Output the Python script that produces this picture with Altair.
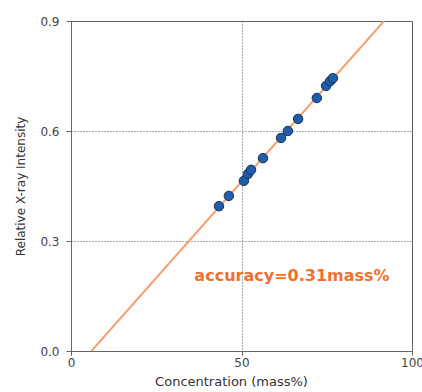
import altair as alt
import pandas as pd

conc = [43.4, 46.3, 50.7, 51.9, 52.8, 56.3, 61.6, 63.6, 66.6, 72.1, 74.8, 76.0, 76.8]
inten = [0.395, 0.423, 0.464, 0.483, 0.494, 0.526, 0.581, 0.600, 0.633, 0.690, 0.723, 0.736, 0.744]
line_x = [6.0, 91.8]
line_y = [0.0, 0.9]
note = ["accuracy=0.31mass%"]
note_x = [64.8]
note_y = [0.205]

pts = pd.DataFrame({"x": conc, "y": inten})
ln = pd.DataFrame({"x": line_x, "y": line_y})
tx = pd.DataFrame({"x": note_x, "y": note_y, "t": note})

xs = alt.Scale(domain=[0, 100], nice=False, zero=False)
ys = alt.Scale(domain=[0, 0.9], nice=False, zero=False)

xax = alt.Axis(values=[0, 50, 100], title="Concentration (mass%)", format="d",
               grid=True, gridDash=[1, 2], gridColor="#555", gridWidth=1,
               tickSize=4, labelPadding=2, titlePadding=7, labelFlush=False,
               labelOverlap=False, titleFontSize=13, titleX=160)
yax = alt.Axis(values=[0, 0.3, 0.6, 0.9], title="Relative X-ray Intensity", format=".1f",
               grid=True, gridDash=[1, 2], gridColor="#555", gridWidth=1,
               tickSize=5, labelPadding=7, titlePadding=12, labelFlush=False,
               labelOverlap=False, titleFontSize=12)

base_grid = alt.Chart(pts).mark_point(opacity=0).encode(
    x=alt.X("x:Q", scale=xs, axis=xax),
    y=alt.Y("y:Q", scale=ys, axis=yax),
)

line = alt.Chart(ln).mark_line(color="#f4a070", strokeWidth=2, clip=True).encode(
    x=alt.X("x:Q", scale=xs), y=alt.Y("y:Q", scale=ys))

points = alt.Chart(pts).mark_circle(size=90, color="#1f5eab", opacity=1,
                                    stroke="#1a2f55", strokeWidth=1).encode(
    x=alt.X("x:Q", scale=xs), y=alt.Y("y:Q", scale=ys))

text = alt.Chart(tx).mark_text(color="#f07030", fontWeight="bold", fontSize=16,
                               font="DejaVu Sans").encode(
    x=alt.X("x:Q", scale=xs), y=alt.Y("y:Q", scale=ys), text="t:N")

chart = alt.layer(base_grid, line, points, text).properties(
    width=341, height=330,
    background="white",
    padding={"left": 71, "top": 21, "right": 10, "bottom": 41},
    autosize=alt.AutoSizeParams(type="none"),
).configure_view(stroke="#666", strokeWidth=1).configure_axis(
    domainColor="#666", tickColor="#666", labelColor="#444", titleColor="#333",
    labelFont="DejaVu Sans", titleFont="DejaVu Sans", labelFontSize=12,
    titleFontWeight="normal",
)

chart.save("out.html", embed_options={"renderer": "svg", "actions": False})
